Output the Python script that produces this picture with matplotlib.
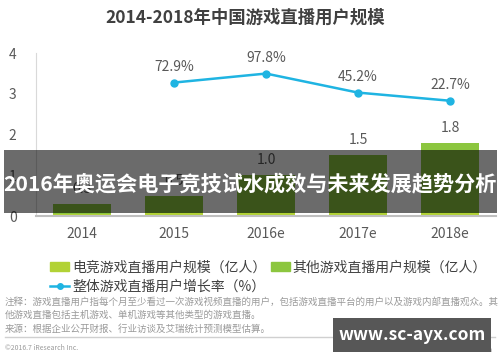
import numpy as np
import matplotlib
matplotlib.use('Agg')
import matplotlib.pyplot as plt
from matplotlib.patches import Patch, Rectangle
from matplotlib.lines import Line2D

plt.rcParams['font.family'] = ['Noto Sans CJK SC', 'DejaVu Sans']

years = ['2014', '2015', '2016e', '2017e', '2018e']
total_users = [0.3, 0.5, 1.0, 1.5, 1.8]
esports_users = [0.06, 0.07, 0.07, 0.08, 0.08]
other_users = [t - e for t, e in zip(total_users, esports_users)]
growth_rate = [np.nan, 72.9, 97.8, 45.2, 22.7]

c_esports = '#B2D235'
c_other = '#8CC63F'
c_line = '#1FB4E2'
c_text = '#595959'

fig = plt.figure(figsize=(5, 3.62), dpi=100)
ax = fig.add_axes([0.072, 0.403, 0.92, 0.45])
x = np.arange(len(years))

ax.bar(x, esports_users, width=0.62, color=c_esports, zorder=2)
ax.bar(x, other_users, width=0.62, bottom=esports_users, color=c_other, zorder=2)
for xi, t in zip(x, total_users):
    ax.text(xi, t + 0.2, f'{t:.1f}', ha='center', va='bottom', fontsize=10, color=c_text)

ax.set_xlim(-0.5, 4.5)
ax.set_ylim(0, 4)
ax.set_yticks([0, 1, 2, 3, 4])
ax.set_xticks(x)
ax.set_xticklabels(years)
ax.tick_params(axis='both', length=0, labelsize=10, colors=c_text)
ax.tick_params(axis='y', pad=14)
ax.tick_params(axis='x', pad=8)
for s in ['top', 'right']:
    ax.spines[s].set_visible(False)
ax.spines['left'].set_color('#d9d9d9')
ax.spines['bottom'].set_color('#bfbfbf')
ax.spines['bottom'].set_linewidth(1.5)

ax2 = ax.twinx()
ax2.plot(x, growth_rate, color=c_line, lw=1.8, marker='o', ms=5, zorder=3)
for xi, g in zip(x, growth_rate):
    if not np.isnan(g):
        ax2.text(xi, g + 24, f'{g}%', ha='center', va='bottom', fontsize=10, color=c_text)
ax2.set_ylim(-296, 154)
ax2.set_yticks([])
for s in ax2.spines.values():
    s.set_visible(False)

fig.text(0.49, 0.95, '2014-2018年中国游戏直播用户规模', ha='center', va='center',
         fontsize=12.5, fontweight='bold', color='#404040')

handles = [Patch(color=c_esports), Line2D([], [], color=c_line, marker='o', ms=4, lw=1.8),
           Patch(color=c_other)]
labels = ['电竞游戏直播用户规模（亿人）', '整体游戏直播用户增长率（%）', '其他游戏直播用户规模（亿人）']
fig.legend(handles, labels, loc='upper left', bbox_to_anchor=(0.075, 0.315), ncol=2,
           frameon=False, fontsize=10, handlelength=1.4, handleheight=0.6,
           handletextpad=0.2, columnspacing=0.3, labelspacing=0.35, labelcolor='#404040')

notes = ['注释：游戏直播用户指每个月至少看过一次游戏视频直播的用户，包括游戏直播平台的用户以及游戏内部直播观众。其',
         '他游戏直播包括主机游戏、单机游戏等其他类型的游戏直播。',
         '来源：根据企业公开财报、行业访谈及艾瑞统计预测模型估算。']
for i, line in enumerate(notes):
    fig.text(0.01, 1 - (302 + i * 13.5) / 362, line, ha='left', va='center', fontsize=6.85, color='#9a9a9a')
fig.add_artist(Line2D([0.01, 0.99], [1 - 337 / 362] * 2, color='#d0d0d0', lw=1))
fig.text(0.01, 1 - 348 / 362, '©2016.7 iResearch Inc.', ha='left', va='center', fontsize=5, color='#9a9a9a')
fig.text(0.985, 1 - 350 / 362, 'www.iresearch.com.cn', ha='right', va='center', fontsize=5, color='#9a9a9a')

# overlay banner
fig.add_artist(Rectangle((0.008, 1 - 213 / 362), 0.986, 63 / 362, transform=fig.transFigure,
                         color='black', alpha=0.58, lw=0, zorder=10))
fig.text(0.5, 1 - 185 / 362, '2016年奥运会电子竞技试水成效与未来发展趋势分析', ha='center', va='center',
         fontsize=15.2, fontweight='bold', color='white', zorder=11)

# watermark box
fig.add_artist(Rectangle((333 / 500, 1 - 352 / 362), 158 / 500, 34 / 362, transform=fig.transFigure,
                         color='#575757', lw=0, zorder=10))
fig.text(412 / 500, 1 - 335 / 362, 'www.sc-ayx.com', ha='center', va='center',
         fontsize=12.5, fontweight='bold', color='white', zorder=11)

fig.savefig('out.png', dpi=100)
